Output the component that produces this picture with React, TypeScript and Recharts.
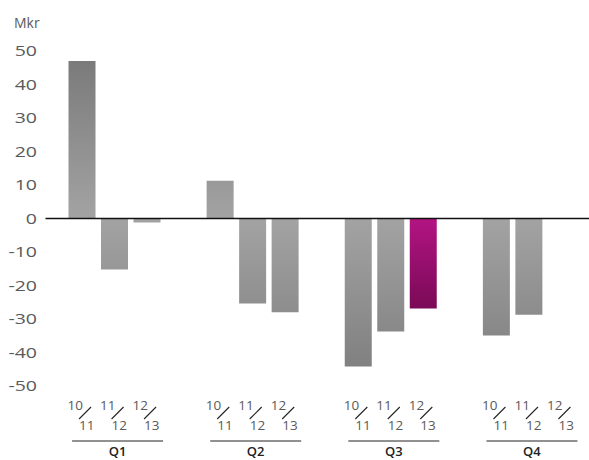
import { Bar, BarChart, Cell, ReferenceLine, XAxis, YAxis } from "recharts";

const QUARTERS = ["Q1", "Q2", "Q3", "Q4"];
const YEARS = ["10/11", "11/12", "12/13"];
const Y_TICKS = [-50, -40, -30, -20, -10, 0, 10, 20, 30, 40, 50];

const V_1011 = [47, 11.3, -44.2, -34.9];
const V_1112 = [-15.2, -25.4, -33.7, -28.7];
const V_1213: (number | null)[] = [-1.2, -28, -26.9, null];

const HIGHLIGHT = { quarter: "Q3", year: "12/13" };

const CHART_W = 598;
const CHART_H = 460;
const TOP = 51;
const AXIS_H = 74;
const ZERO_Y = TOP + (CHART_H - TOP - AXIS_H) / 2;
const BAR_SIZE = 27;
const BAR_GAP = 5.5;
const FONT = "'Open Sans', 'Noto Sans', sans-serif";

const data = QUARTERS.map((q, i) => ({
  quarter: q,
  "10/11": V_1011[i],
  "11/12": V_1112[i],
  "12/13": V_1213[i],
}));

function fillFor(quarter: string, year: string, v: number | null) {
  if (quarter === HIGHLIGHT.quarter && year === HIGHLIGHT.year) return "url(#magGrad)";
  return (v ?? 0) >= 0 ? "url(#posGrad)" : "url(#negGrad)";
}

// y labels in the original are set in a wide face
function ValueTick(props: any) {
  const { x, y, payload } = props;
  return (
    <text
      x={0}
      y={0}
      dy="0.36em"
      textAnchor="end"
      transform={`translate(${x},${y}) scale(1.3,1)`}
      fontFamily={FONT}
      fontSize={15}
      fill="#5a5a5a"
    >
      {payload.value}
    </text>
  );
}

function QuarterTick(props: any) {
  const { x, y, payload } = props;
  const step = BAR_SIZE + BAR_GAP;
  const offsets = YEARS.map((_, i) => (i - (YEARS.length - 1) / 2) * step);
  return (
    <g>
      {YEARS.map((yr, i) => {
        const [a, b] = yr.split("/");
        const cx = x + offsets[i];
        return (
          <g key={yr} fontFamily={FONT} fontSize={13.5} fill="#5a5a5a">
            <text x={cx + 1} y={y + 24} textAnchor="end">
              {a}
            </text>
            <line x1={cx - 3} y1={y + 33} x2={cx + 9} y2={y + 21} stroke="#222" strokeWidth={1.1} />
            <text x={cx - 3} y={y + 44} textAnchor="start">
              {b}
            </text>
          </g>
        );
      })}
      <line
        x1={x + offsets[0] - 10}
        x2={x + offsets[YEARS.length - 1] + 16}
        y1={y + 55}
        y2={y + 55}
        stroke="#222"
        strokeWidth={1}
      />
      <text
        x={x + 3}
        y={y + 70}
        textAnchor="middle"
        fontFamily={FONT}
        fontSize={13}
        fontWeight={600}
        fill="#222"
      >
        {payload.value}
      </text>
    </g>
  );
}

export default function App() {
  return (
    <div
      style={{
        position: "absolute",
        left: 0,
        top: 0,
        width: 589,
        height: 460,
        overflow: "hidden",
        background: "#fff",
      }}
    >
      <div
        style={{
          position: "absolute",
          left: 14,
          top: 15,
          fontFamily: FONT,
          fontSize: 14,
          lineHeight: "16px",
          color: "#5a5a5a",
        }}
      >
        Mkr
      </div>
      <BarChart
        width={CHART_W}
        height={CHART_H}
        data={data}
        margin={{ top: TOP, right: 0, bottom: 0, left: 0 }}
        barSize={BAR_SIZE}
        barGap={BAR_GAP}
      >
        <defs>
          <linearGradient id="posGrad" gradientUnits="userSpaceOnUse" x1="0" y1={ZERO_Y} x2="0" y2={TOP}>
            <stop offset="0%" stopColor="#a3a3a3" />
            <stop offset="100%" stopColor="#787878" />
          </linearGradient>
          <linearGradient id="negGrad" gradientUnits="userSpaceOnUse" x1="0" y1={ZERO_Y} x2="0" y2={CHART_H - AXIS_H}>
            <stop offset="0%" stopColor="#a3a3a3" />
            <stop offset="100%" stopColor="#7c7c7c" />
          </linearGradient>
          <linearGradient id="magGrad" x1="0" y1="0" x2="0" y2="1">
            <stop offset="0%" stopColor="#b21482" />
            <stop offset="100%" stopColor="#7a0a57" />
          </linearGradient>
        </defs>
        <XAxis
          dataKey="quarter"
          axisLine={false}
          tickLine={false}
          tickSize={0}
          tickMargin={0}
          height={AXIS_H}
          interval={0}
          tick={<QuarterTick />}
        />
        <YAxis
          domain={[-50, 50]}
          ticks={Y_TICKS}
          width={45.5}
          axisLine={false}
          tickLine={false}
          tickSize={0}
          tickMargin={8.5}
          interval={0}
          tick={<ValueTick />}
        />
        {YEARS.map((yr) => (
          <Bar key={yr} dataKey={yr} isAnimationActive={false}>
            {data.map((d) => (
              <Cell key={d.quarter} fill={fillFor(d.quarter, yr, d[yr as keyof typeof d] as number | null)} />
            ))}
          </Bar>
        ))}
        <ReferenceLine y={0} stroke="#111" strokeWidth={1.5} />
      </BarChart>
    </div>
  );
}
